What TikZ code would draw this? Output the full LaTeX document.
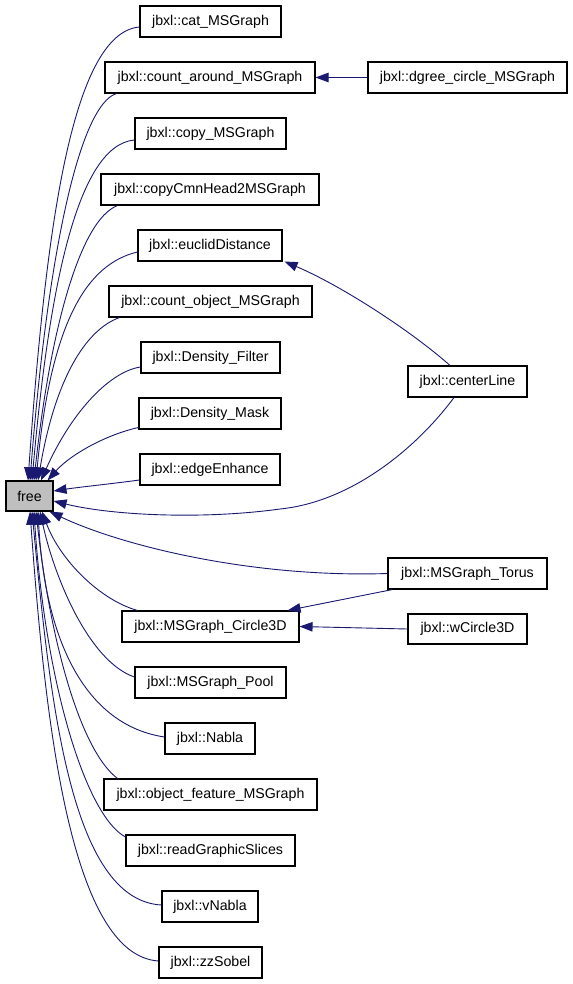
\documentclass[tikz,border=0pt]{standalone}
\usepackage{fontspec}
\setmainfont{Liberation Sans}
\usetikzlibrary{arrows.meta}
\definecolor{edgeblue}{HTML}{191970}
\definecolor{freegrey}{HTML}{BFBFBF}
\begin{document}
\begin{tikzpicture}[x=1bp,y=-1bp,
  box/.style={draw=black,line width=1.1bp,minimum height=31bp,inner sep=0pt,
    font=\fontsize{14.2bp}{17bp}\selectfont,text=black},
  edge/.style={draw=edgeblue,line width=0.9bp,
    -{Triangle[length=13bp,width=9.5bp]},color=edgeblue}]
\useasboundingbox (0,0) rectangle (573,984);
% left column
\node[box,minimum width=141bp] (cat) at (210.5,21.5) {jbxl::cat\_MSGraph};
\node[box,minimum width=210bp] (cnta) at (210,77.5) {jbxl::count\_around\_MSGraph};
\node[box,minimum width=151bp] (copy) at (210.5,133.5) {jbxl::copy\_MSGraph};
\node[box,minimum width=218bp] (copyc) at (210,189.5) {jbxl::copyCmnHead2MSGraph};
\node[box,minimum width=144bp] (eucl) at (210,245.5) {jbxl::euclidDistance};
\node[box,minimum width=203bp] (cnto) at (210.5,301.5) {jbxl::count\_object\_MSGraph};
\node[box,minimum width=139bp] (dfil) at (210.5,357.5) {jbxl::Density\_Filter};
\node[box,minimum width=142bp] (dmask) at (210,413.5) {jbxl::Density\_Mask};
\node[box,minimum width=140bp] (edge) at (210,469.5) {jbxl::edgeEnhance};
\node[box,minimum width=47bp,minimum height=30bp,fill=freegrey] (free) at (29.5,496) {free};
\node[box,minimum width=177bp] (circ) at (210.5,626.5) {jbxl::MSGraph\_Circle3D};
\node[box,minimum width=151bp] (pool) at (210.5,682.5) {jbxl::MSGraph\_Pool};
\node[box,minimum width=90bp] (nabla) at (210,738.5) {jbxl::Nabla};
\node[box,minimum width=213bp] (objf) at (210.5,794.5) {jbxl::object\_feature\_MSGraph};
\node[box,minimum width=169bp] (rgs) at (210.5,850.5) {jbxl::readGraphicSlices};
\node[box,minimum width=96bp] (vnabla) at (210,906.5) {jbxl::vNabla};
\node[box,minimum width=103bp] (zz) at (210.5,962.5) {jbxl::zzSobel};
% right column
\node[box,minimum width=199bp] (dgree) at (467.5,77.5) {jbxl::dgree\_circle\_MSGraph};
\node[box,minimum width=119bp] (cline) at (467.5,381.5) {jbxl::centerLine};
\node[box,minimum width=159bp] (torus) at (467.5,573.5) {jbxl::MSGraph\_Torus};
\node[box,minimum width=119bp,minimum height=30bp] (wcirc) at (467.5,629) {jbxl::wCircle3D};
% edges to free (top)
\draw[edge] ([yshift=-5.5bp]cat.west) .. controls (70,33) and (45,240) .. ([xshift=-1.5bp]free.north);
\draw[edge] ([xshift=12bp]cnta.south west) .. controls (80,105) and (48,250) .. ([xshift=0.5bp]free.north);
\draw[edge] ([yshift=-6.5bp]copy.west) .. controls (75,145) and (48,300) .. ([xshift=2.5bp]free.north);
\draw[edge] ([xshift=17bp]copyc.south west) .. controls (80,220) and (50,330) .. ([xshift=4.5bp]free.north);
\draw[edge] ([yshift=-6.5bp]eucl.west) .. controls (87,264) and (51,321) .. ([xshift=6.5bp]free.north);
\draw[edge] ([xshift=11bp]cnto.south west) .. controls (85,330) and (55,380) .. ([xshift=8.5bp]free.north);
\draw[edge] ([yshift=-9.5bp]dfil.west) .. controls (108,372) and (70,415) .. ([xshift=11.5bp]free.north);
\draw[edge] ([yshift=-14bp]dmask.west) .. controls (105,435) and (70,455) .. ([xshift=-6bp]free.north east);
\draw[edge] ([yshift=-10.5bp]edge.west) .. controls (110,484) and (80,487) .. ([yshift=5bp]free.east);
% edges to free (right side)
\draw[edge] ([xshift=-13.5bp]cline.south) .. controls (415,450) and (350,502) .. (280,509)
  .. controls (200,520) and (110,515) .. ([yshift=-5bp]free.east);
\draw[edge] (torus.west) .. controls (250,578) and (120,545) .. ([xshift=-4bp]free.south east);
% edges to free (bottom)
\draw[edge] ([xshift=16bp]circ.north west) .. controls (100,600) and (60,560) .. ([xshift=12.5bp]free.south);
\draw[edge] ([yshift=5.5bp]pool.west) .. controls (90,662) and (55,580) .. ([xshift=10.5bp]free.south);
\draw[edge] ([yshift=1.5bp]nabla.west) .. controls (85,725) and (45,640) .. ([xshift=8.5bp]free.south);
\draw[edge] ([xshift=14bp]objf.north west) .. controls (80,750) and (50,640) .. ([xshift=6.5bp]free.south);
\draw[edge] ([yshift=13.5bp]rgs.west) .. controls (85,815) and (45,680) .. ([xshift=4.5bp]free.south);
\draw[edge] ([yshift=1.5bp]vnabla.west) .. controls (70,900) and (50,700) .. ([xshift=2.5bp]free.south);
\draw[edge] ([yshift=1.5bp]zz.west) .. controls (70,955) and (45,720) .. ([xshift=0.5bp]free.south);
% other edges
\draw[edge] (dgree.west) -- (cnta.east);
\draw[edge] ([xshift=-17.5bp]cline.north) .. controls (410,330) and (340,285) .. ([xshift=2bp]eucl.south east);
\draw[edge] ([xshift=5bp]torus.south west) -- ([xshift=-12bp]circ.north east);
\draw[edge] (wcirc.west) -- (circ.east);
\end{tikzpicture}
\end{document}
